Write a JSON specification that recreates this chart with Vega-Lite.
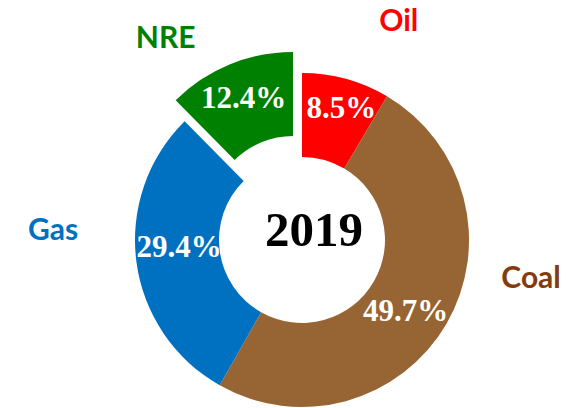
{
  "$schema": "https://vega.github.io/schema/vega-lite/v6.json",
  "autosize": {"type": "none"},
  "width": 546,
  "height": 336,
  "padding": {"left": 29, "top": 72, "right": 0, "bottom": 0},
  "background": "white",
  "config": {"view": {"stroke": null}},
  "datasets": {
    "mix": [
      {"cat": "Oil", "value": 0.085, "ord": 1},
      {"cat": "Coal", "value": 0.497, "ord": 2},
      {"cat": "Gas", "value": 0.294, "ord": 3},
      {"cat": "NRE", "value": 0.124, "ord": 4}
    ],
    "year": [{"year": "2019"}]
  },
  "data": {"name": "mix"},
  "encoding": {
    "theta": {"field": "value", "type": "quantitative", "stack": true},
    "order": {"field": "ord", "type": "quantitative"}
  },
  "layer": [
    {
      "mark": {"type": "arc", "radius": 167, "radius2": 83},
      "encoding": {
        "color": {"field": "cat", "type": "nominal", "legend": null,
          "scale": {"domain": ["Oil", "Coal", "Gas", "NRE"], "range": ["#FF0000", "#976533", "#0070C0", "#008000"]}},
        "opacity": {"condition": {"test": "datum.cat === 'NRE'", "value": 0}, "value": 1}
      }
    },
    {
      "mark": {"type": "arc", "radius": 167, "radius2": 83, "xOffset": -9, "yOffset": -21},
      "encoding": {
        "color": {"field": "cat", "type": "nominal", "legend": null},
        "opacity": {"condition": {"test": "datum.cat === 'NRE'", "value": 1}, "value": 0}
      }
    },
    {
      "mark": {"type": "text", "radius": 130, "font": "Liberation Serif", "fontWeight": "bold", "fontSize": 31, "color": "white", "dx": 5, "dy": -6},
      "encoding": {
        "text": {"field": "value", "type": "quantitative", "format": ".1%"},
        "opacity": {"condition": {"test": "datum.cat === 'Oil'", "value": 1}, "value": 0}
      }
    },
    {
      "mark": {"type": "text", "radius": 130, "font": "Liberation Serif", "fontWeight": "bold", "fontSize": 31, "color": "white", "dx": -9, "dy": 7},
      "encoding": {
        "text": {"field": "value", "type": "quantitative", "format": ".1%"},
        "opacity": {"condition": {"test": "datum.cat === 'Coal'", "value": 1}, "value": 0}
      }
    },
    {
      "mark": {"type": "text", "radius": 130, "font": "Liberation Serif", "fontWeight": "bold", "fontSize": 31, "color": "white", "dx": 6, "dy": -9},
      "encoding": {
        "text": {"field": "value", "type": "quantitative", "format": ".1%"},
        "opacity": {"condition": {"test": "datum.cat === 'Gas'", "value": 1}, "value": 0}
      }
    },
    {
      "mark": {"type": "text", "radius": 130, "font": "Liberation Serif", "fontWeight": "bold", "fontSize": 31, "color": "white", "xOffset": -9, "yOffset": -21},
      "encoding": {
        "text": {"field": "value", "type": "quantitative", "format": ".1%"},
        "opacity": {"condition": {"test": "datum.cat === 'NRE'", "value": 1}, "value": 0}
      }
    },
    {
      "mark": {"type": "text", "radius": 230, "font": "Lato", "fontWeight": "bold", "fontSize": 30, "color": "#FF0000", "dx": 36, "dy": 4},
      "encoding": {
        "text": {"field": "cat"},
        "opacity": {"condition": {"test": "datum.cat === 'Oil'", "value": 1}, "value": 0}
      }
    },
    {
      "mark": {"type": "text", "radius": 230, "font": "Lato", "fontWeight": "bold", "fontSize": 30, "color": "#843C0C", "dx": 30, "dy": -76},
      "encoding": {
        "text": {"field": "cat"},
        "opacity": {"condition": {"test": "datum.cat === 'Coal'", "value": 1}, "value": 0}
      }
    },
    {
      "mark": {"type": "text", "radius": 230, "font": "Lato", "fontWeight": "bold", "fontSize": 30, "color": "#0070C0", "dx": -21, "dy": -39},
      "encoding": {
        "text": {"field": "cat"},
        "opacity": {"condition": {"test": "datum.cat === 'Gas'", "value": 1}, "value": 0}
      }
    },
    {
      "mark": {"type": "text", "radius": 230, "font": "Lato", "fontWeight": "bold", "fontSize": 30, "color": "#008000", "dx": -49, "dy": 12},
      "encoding": {
        "text": {"field": "cat"},
        "opacity": {"condition": {"test": "datum.cat === 'NRE'", "value": 1}, "value": 0}
      }
    },
    {
      "data": {"name": "year"},
      "mark": {"type": "text", "font": "Liberation Serif", "fontWeight": "bold", "fontSize": 49, "color": "black", "dx": 12, "dy": -9},
      "encoding": {
        "theta": null,
        "order": null,
        "text": {"field": "year"}
      }
    }
  ]
}
